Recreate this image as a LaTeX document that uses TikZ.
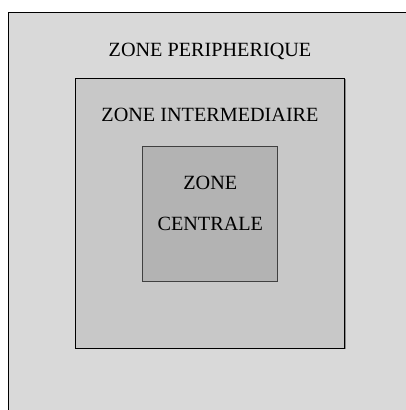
\documentclass[tikz,border=0pt]{standalone}
\usepackage{fontspec}
\setmainfont{Liberation Serif}
\usepackage{xcolor}
\usetikzlibrary{calc, shapes}
\definecolor{periph}{HTML}{D9D9D9}
\definecolor{interm}{HTML}{C8C8C8}
\definecolor{centre}{HTML}{B3B3B3}
\begin{document}
\begin{tikzpicture}[x=1pt, y=-1pt]
			\tikzset{zonebox/.style={draw, rectangle, inner sep=0pt, line width=0.9pt}}
			\tikzset{zonelabel/.style={anchor=base, inner sep=0pt, font=\fontsize{20.2}{24}\selectfont}}
			\useasboundingbox (0,0) rectangle (406,410);
			\clip (0,0) rectangle (406,410);
			% boxes
			\node[zonebox, fill=periph, minimum width=412pt, minimum height=412pt] (periph) at (214,218) {};
			\node[zonebox, fill=black!45, draw=none, minimum width=269pt, minimum height=270pt] (shadow) at (211.8,214.3) {};
			\node[zonebox, fill=interm, minimum width=269pt, minimum height=270pt] (interm) at (210.3,213.8) {};
			\node[zonebox, fill=centre, draw=black!75, minimum width=135pt, minimum height=135pt] (centre) at (210.3,213.7) {};
			% labels
			\node[zonelabel] (lperiph) at (210,56.7) {ZONE PERIPHERIQUE};
			\node[zonelabel] (linterm) at (210,121) {ZONE INTERMEDIAIRE};
			\node[zonelabel] (lzone) at (210.3,189.3) {ZONE};
			\node[zonelabel] (lcentre) at (210.3,230.7) {CENTRALE};
\end{tikzpicture}
\end{document}
